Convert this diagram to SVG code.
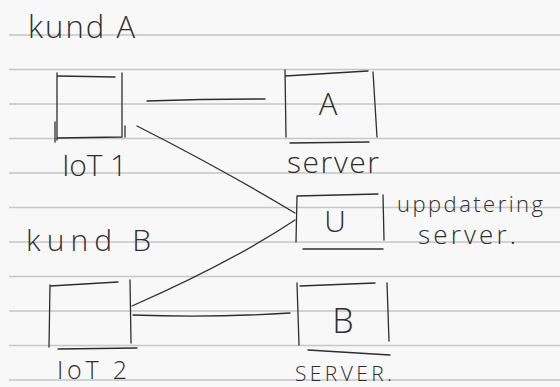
<svg xmlns="http://www.w3.org/2000/svg" width="560" height="387" viewBox="0 0 560 387">
  <style>
    .paper { fill: #f8f8f8; }
    .rule { stroke: #c6c6c6; stroke-width: 1.6; }
    .ink { fill: none; stroke: #2e2e2e; stroke-width: 1.3; stroke-linecap: round; stroke-linejoin: round; }
    .hand { font-family: "Open Sans", "Liberation Sans", sans-serif; font-weight: 300; fill: #2e2e2e; }
  </style>

  <!-- lined notebook paper -->
  <rect class="paper" x="0" y="0" width="560" height="387"/>
  <g id="ruling">
    <line class="rule" x1="9" y1="35" x2="560" y2="35"/>
    <line class="rule" x1="9" y1="69.5" x2="560" y2="69.5"/>
    <line class="rule" x1="9" y1="104" x2="560" y2="104"/>
    <line class="rule" x1="9" y1="138.5" x2="560" y2="138.5"/>
    <line class="rule" x1="9" y1="173" x2="560" y2="173"/>
    <line class="rule" x1="9" y1="207.5" x2="560" y2="207.5"/>
    <line class="rule" x1="9" y1="242" x2="560" y2="242"/>
    <line class="rule" x1="9" y1="276.5" x2="560" y2="276.5"/>
    <line class="rule" x1="9" y1="311" x2="560" y2="311"/>
    <line class="rule" x1="9" y1="345.5" x2="560" y2="345.5"/>
    <line class="rule" x1="9" y1="380" x2="560" y2="380"/>
  </g>

  <!-- customer headings -->
  <g id="kundA">
    <text class="hand" x="28" y="38" font-size="31" textLength="107">kund A</text>
  </g>
  <g id="kundB">
    <text class="hand" x="26" y="251" font-size="30" textLength="125">kund B</text>
  </g>

  <!-- connectors -->
  <g id="connectors">
    <path class="ink" d="M147,101 Q205,99 265,99"/>
    <path class="ink" d="M137,126 Q220,168 295,213"/>
    <path class="ink" d="M132,306 Q232,262 295,220"/>
    <path class="ink" d="M133,315 Q210,318 290,313"/>
  </g>

  <!-- IoT 1 -->
  <g id="iot1">
    <path class="ink" d="M57,73 L57,140 M55,122 L55,142 M58,76 L115,77 M122,73 L122,137 M57,138 L122,137 M125,126 L125,137"/>
    <text class="hand" x="62" y="176" font-size="30" textLength="65">IoT 1</text>
  </g>

  <!-- server A -->
  <g id="serverA">
    <path class="ink" d="M285,70 L286,137 M285,76 L368,71 M373,72 L377,137 M290,143 L369,142"/>
    <text class="hand" x="328" y="115" font-size="31" text-anchor="middle">A</text>
    <text class="hand" x="287" y="173" font-size="30" textLength="92">server</text>
  </g>

  <!-- update server U -->
  <g id="serverU">
    <path class="ink" d="M297,196 L296,242 M297,196 L378,194 M383,195 L384,240 M303,249 L383,249"/>
    <text class="hand" x="335" y="232" font-size="30" text-anchor="middle">U</text>
    <text class="hand" x="397" y="212" font-size="22" textLength="146">uppdatering</text>
    <text class="hand" x="418" y="244" font-size="26" textLength="98">server.</text>
  </g>

  <!-- IoT 2 -->
  <g id="iot2">
    <path class="ink" d="M50,285 L49,347 M50,286 L118,282 M130,280 L131,343 M58,349 L137,348"/>
    <text class="hand" x="57" y="379" font-size="25" textLength="70">IoT 2</text>
  </g>

  <!-- server B -->
  <g id="serverB">
    <path class="ink" d="M297,283 L299,345 M300,286 L375,283 M387,283 L389,341 M308,350 L390,355"/>
    <text class="hand" x="343" y="333" font-size="34" text-anchor="middle">B</text>
    <text class="hand" x="295" y="381" font-size="21" textLength="97">SERVER.</text>
  </g>
</svg>
